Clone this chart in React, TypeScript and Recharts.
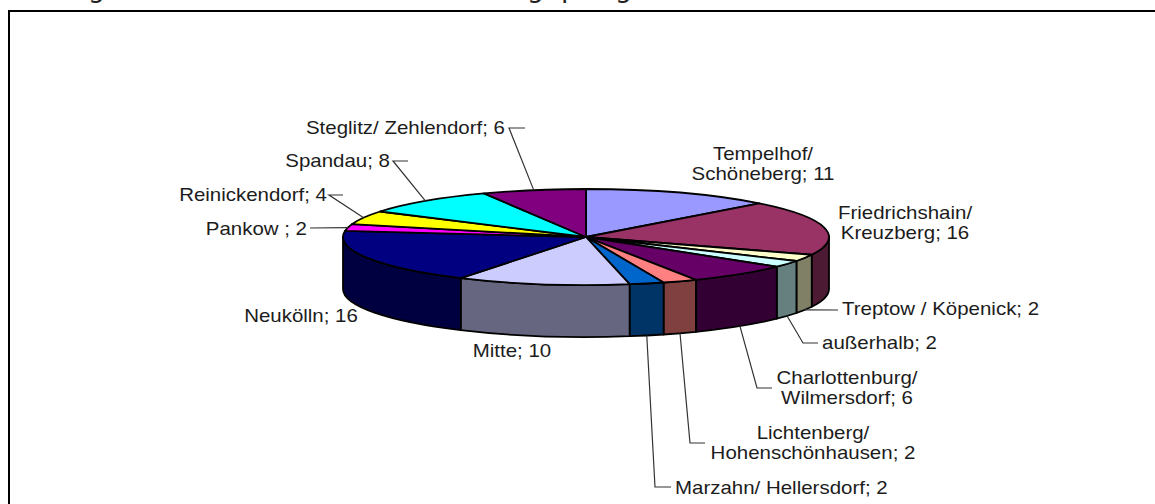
import { Pie, PieChart } from 'recharts';

const districts = [
  'Tempelhof/ Schöneberg',
  'Friedrichshain/ Kreuzberg',
  'Treptow / Köpenick',
  'außerhalb',
  'Charlottenburg/ Wilmersdorf',
  'Lichtenberg/ Hohenschönhausen',
  'Marzahn/ Hellersdorf',
  'Mitte',
  'Neukölln',
  'Pankow ',
  'Reinickendorf',
  'Spandau',
  'Steglitz/ Zehlendorf',
];
const counts = [11, 16, 2, 2, 6, 2, 2, 10, 16, 2, 4, 8, 6];
const topColors = [
  '#9999FF', '#993366', '#FFFFCC', '#CCFFFF', '#660066', '#FF8080', '#0066CC',
  '#CCCCFF', '#000080', '#FF00FF', '#FFFF00', '#00FFFF', '#800080',
];
const wallColors = [
  '#4D4D80', '#4D1A33', '#808066', '#668080', '#330033', '#804040', '#003366',
  '#666680', '#000040', '#800080', '#808000', '#008080', '#400040',
];

const WIDTH = 1155;
const HEIGHT = 504;
const CX = 586;
const CY = 237;
const RX = 243;
const RY = 48;
const DEPTH = 52;
const LABEL_COLOR = '#1c1c1c';
const LEADER_COLOR = '#333333';
// the source picture was stretched sideways, so the labels are too
const LABEL_STRETCH = 1.17;

// label placement, index-aligned with districts; `bends` are the leader's elbows
type LabelPlace = {
  x: number;
  y: number;
  anchor: 'start' | 'middle' | 'end';
  wrap?: boolean;
  onWall?: boolean;
  bends?: [number, number][];
};
const labelPlaces: LabelPlace[] = [
  { x: 763, y: 154, anchor: 'middle', wrap: true },
  { x: 905, y: 213, anchor: 'middle', wrap: true },
  { x: 842, y: 309, anchor: 'start', onWall: true, bends: [[838, 310]] },
  { x: 822, y: 343, anchor: 'start', onWall: true, bends: [[803, 343], [818, 343]] },
  { x: 847, y: 378, anchor: 'middle', wrap: true, onWall: true, bends: [[757, 388], [772, 388]] },
  { x: 813, y: 433, anchor: 'middle', wrap: true, onWall: true, bends: [[690, 443], [705, 443]] },
  { x: 675, y: 488, anchor: 'start', onWall: true, bends: [[655, 487], [671, 487]] },
  { x: 512, y: 351, anchor: 'middle' },
  { x: 301, y: 316, anchor: 'middle' },
  { x: 307, y: 229, anchor: 'end', bends: [[310, 228]] },
  { x: 327, y: 195, anchor: 'end', bends: [[329, 195], [343, 195]] },
  { x: 390, y: 161, anchor: 'end', bends: [[393, 161], [408, 161]] },
  { x: 505, y: 128, anchor: 'end', bends: [[509, 128], [525, 128]] },
];

// what is left of the title, cut off by the top of the picture
const titleGlyphs: [string, number][] = [['g', 88], ['g', 527], ['p', 561], ['g', 615]];

const tableData = districts.map((name, i) => ({ name, value: counts[i] }));

const rim = (deg: number, drop = 0) => {
  const rad = (deg * Math.PI) / 180;
  return [CX + RX * Math.cos(rad), CY - RY * Math.sin(rad) + drop];
};

function TopFace({ startAngle, endAngle, index }: any) {
  const [x1, y1] = rim(startAngle);
  const [x2, y2] = rim(endAngle);
  const large = Math.abs(startAngle - endAngle) > 180 ? 1 : 0;
  const d = `M${CX},${CY} L${x1},${y1} A${RX},${RY} 0 ${large} 1 ${x2},${y2} Z`;
  return <path d={d} fill={topColors[index]} stroke="#000" strokeWidth={1.8} strokeLinejoin="round" />;
}

// only the front half of the rim shows a wall
function WallFace({ startAngle, endAngle, index }: any) {
  const from = Math.min(startAngle, 0);
  const to = Math.max(endAngle, -180);
  if (from <= to) return null;
  const [x1, y1] = rim(from);
  const [x2, y2] = rim(to);
  const d = `M${x1},${y1} A${RX},${RY} 0 0 1 ${x2},${y2} L${x2},${y2 + DEPTH} A${RX},${RY} 0 0 0 ${x1},${y1 + DEPTH} Z`;
  return <path d={d} fill={wallColors[index]} stroke="#000" strokeWidth={1.8} strokeLinejoin="round" />;
}

function SliceLabel({ index, midAngle, name, value }: any) {
  const place = labelPlaces[index];
  const text = `${name}; ${value}`;
  const lines = place.wrap ? text.split('/ ').map((s, i, all) => (i < all.length - 1 ? `${s}/` : s)) : [text];
  const [ax, ay] = rim(midAngle, place.onWall ? DEPTH : 0);
  const leader = place.bends ? [[ax, ay], ...place.bends].map((p) => p.join(',')).join(' ') : null;
  return (
    <g>
      {leader && <polyline points={leader} fill="none" stroke={LEADER_COLOR} strokeWidth={1.2} />}
      {lines.map((line, i) => (
        <text
          key={line}
          transform={`translate(${place.x},${place.y + i * 20}) scale(${LABEL_STRETCH},1)`}
          textAnchor={place.anchor}
          dominantBaseline="central"
          fontFamily="'Liberation Sans', Arial, sans-serif"
          fontSize={17.5}
          fill={LABEL_COLOR}
        >
          {line}
        </text>
      ))}
    </g>
  );
}

export default function App() {
  return (
    <div style={{ position: 'absolute', left: 0, top: 0, width: WIDTH, height: HEIGHT, background: '#fff' }}>
      <PieChart width={WIDTH} height={HEIGHT} margin={{ top: 0, right: 0, bottom: 0, left: 0 }}>
        {titleGlyphs.map(([glyph, x], i) => (
          <text key={i} x={x} y={-3} fontFamily="'DejaVu Sans', sans-serif" fontSize={27} fill="#222">
            {glyph}
          </text>
        ))}
        <path d={`M9,${HEIGHT} V11 H${WIDTH}`} fill="none" stroke="#000" strokeWidth={2} />
        <Pie
          data={tableData}
          dataKey="value"
          nameKey="name"
          cx={CX}
          cy={CY}
          outerRadius={RX}
          startAngle={90}
          endAngle={-270}
          stroke="none"
          shape={WallFace}
          isAnimationActive={false}
        />
        <Pie
          data={tableData}
          dataKey="value"
          nameKey="name"
          cx={CX}
          cy={CY}
          outerRadius={RX}
          startAngle={90}
          endAngle={-270}
          stroke="none"
          shape={TopFace}
          label={SliceLabel}
          labelLine={false}
          isAnimationActive={false}
        />
      </PieChart>
    </div>
  );
}
